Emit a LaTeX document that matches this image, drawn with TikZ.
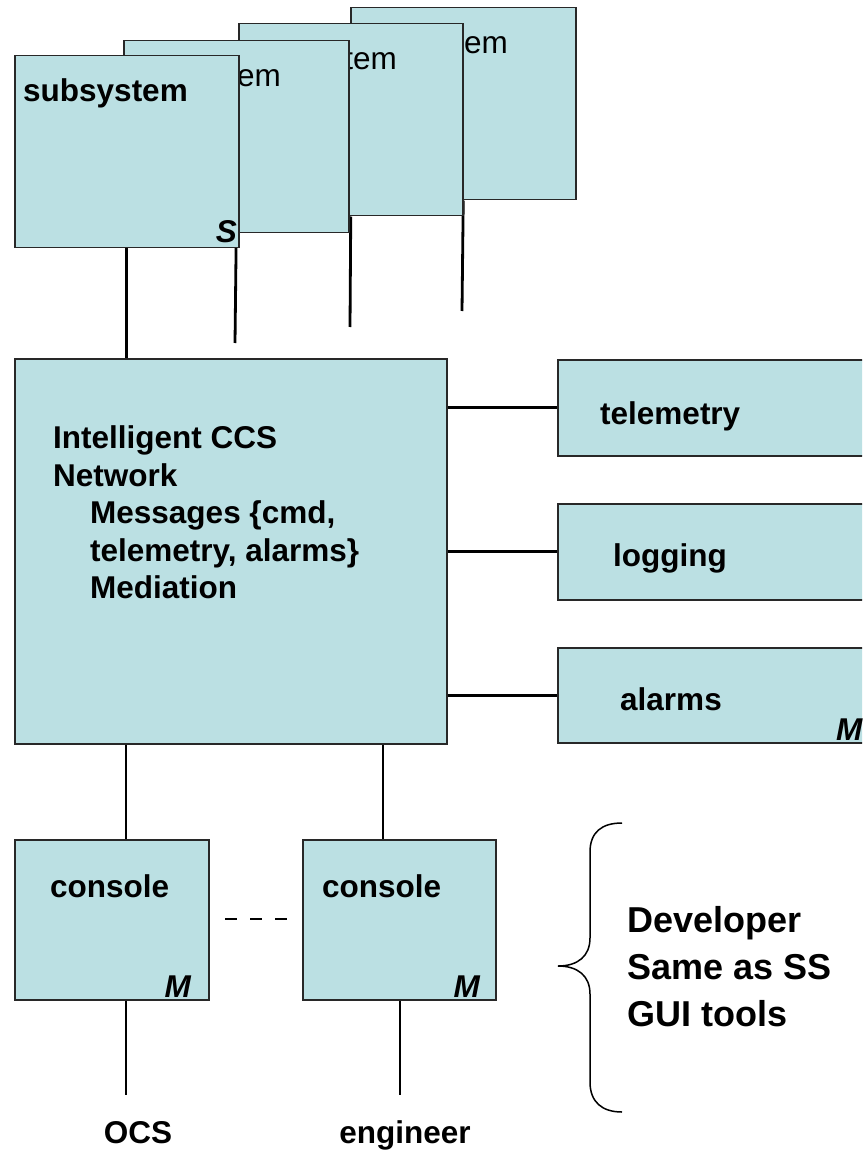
\documentclass[tikz,border=0pt]{standalone}
\usepackage{fontspec}
\setmainfont{Liberation Sans}
\definecolor{boxfill}{RGB}{187,224,227}
\definecolor{boxline}{RGB}{40,40,40}
\begin{document}
\begin{tikzpicture}[x=1pt,y=-1pt,
  box/.style={draw=boxline, line width=1.5pt, fill=boxfill, inner sep=0pt, anchor=north west},
  wire/.style={line width=2.8pt, black},
  lbl/.style={font=\fontsize{31.5}{38}\selectfont\bfseries, inner sep=0pt, anchor=base west},
  ghost/.style={font=\fontsize{31.5}{38}\selectfont, inner sep=0pt, anchor=base east},
  cornermark/.style={font=\fontsize{31.5}{38}\selectfont\bfseries\itshape, inner sep=0pt, anchor=base east},
  big/.style={font=\fontsize{36}{44}\selectfont\bfseries, inner sep=0pt, anchor=base west}
]
\useasboundingbox (0,0) rectangle (862,1150);
\clip (0,0) rectangle (862,1150);

% central network box
\node[box, minimum width=432pt, minimum height=385pt] (ccs) at (14,358) {};
\node[lbl] (t1) at (53,448) {Intelligent CCS};
\node[lbl] (t2) at (53,486) {Network};
\node[lbl] (t3) at (90,523) {Messages \{cmd,};
\node[lbl] (t4) at (90,561) {telemetry, alarms\}};
\node[lbl] (t5) at (90,598) {Mediation};

% stacked subsystem boxes (back to front)
\node[box, minimum width=225pt, minimum height=192pt] (sub4) at (350,7) {};
\node[ghost] (g4) at (508,54) {tem};
\coordinate (e4) at (462,311);
\draw[wire] (sub4.south) -- (e4);

\node[box, minimum width=224pt, minimum height=192pt] (sub3) at (238,23) {};
\node[ghost] (g3) at (397,70) {tem};
\coordinate (e3) at (350,327);
\draw[wire] (sub3.south) -- (e3);

\node[box, minimum width=225pt, minimum height=192pt] (sub2) at (123,40) {};
\node[ghost] (g2) at (281,87) {em};
\coordinate (e2) at (235,343);
\draw[wire] (sub2.south) -- (e2);

\node[box, minimum width=224pt, minimum height=192pt] (sub1) at (14,55) {};
\node[lbl] (s1) at (23,102) {subsystem};
\node[cornermark] (s1m) at (237,243) {S};
\draw[wire] (sub1.south) -- (sub1.south |- ccs.north);

% right-hand service boxes
\node[box, minimum width=345pt, minimum height=96pt] (tel) at (557,359) {};
\node[lbl] (tell) at (600,424) {telemetry};
\node[box, minimum width=345pt, minimum height=96pt] (log) at (557,503) {};
\node[lbl] (logl) at (613,566) {logging};
\node[box, minimum width=345pt, minimum height=95pt] (alm) at (557,647) {};
\node[lbl] (alml) at (620,710) {alarms};
\node[font=\fontsize{31.5}{38}\selectfont\bfseries\itshape, inner sep=0pt, anchor=base west] (almm) at (836,740) {M};
\draw[wire] (ccs.east |- tel.west) -- (tel.west);
\draw[wire] (ccs.east |- log.west) -- (log.west);
\draw[wire] (ccs.east |- alm.west) -- (alm.west);

% consoles
\node[box, minimum width=194pt, minimum height=160pt] (con1) at (14,839) {};
\node[lbl] (c1l) at (50,897) {console};
\node[cornermark] (c1m) at (191,997) {M};
\node[box, minimum width=193pt, minimum height=160pt] (con2) at (302,839) {};
\node[lbl] (c2l) at (322,897) {console};
\node[cornermark] (c2m) at (480,997) {M};

\coordinate (x1) at (126,0);
\coordinate (x2) at (383,0);
\draw[wire] (ccs.south -| x1) -- (con1.north -| x1);
\draw[wire] (ccs.south -| x2) -- (con2.north -| x2);

\coordinate (o1) at (126,1095);
\coordinate (o2) at (400,1095);
\draw[wire] (con1.south -| o1) -- (o1);
\draw[wire] (con2.south -| o2) -- (o2);
\node[lbl, anchor=base] (ocs) at (138,1143) {OCS};
\node[lbl, anchor=base] (eng) at (405,1143) {engineer};

% dashes between consoles
\coordinate (d1) at (225,919);
\coordinate (d2) at (287,919);
\draw[wire, dash pattern=on 12pt off 13pt] (d1) -- (d2);

% brace and note
\coordinate (bt) at (622,823);
\coordinate (btip) at (558,966);
\coordinate (bb) at (622,1112);
\draw[line width=1.5pt] (bt) .. controls (602,823) and (590,832) .. (590,852)
  -- (590,938) .. controls (590,956) and (578,966) .. (btip)
  .. controls (578,966) and (590,976) .. (590,994)
  -- (590,1082) .. controls (590,1102) and (602,1112) .. (bb);
\node[big] (n1) at (627,932) {Developer};
\node[big] (n2) at (627,979) {Same as SS};
\node[big] (n3) at (627,1026) {GUI tools};
\end{tikzpicture}
\end{document}
